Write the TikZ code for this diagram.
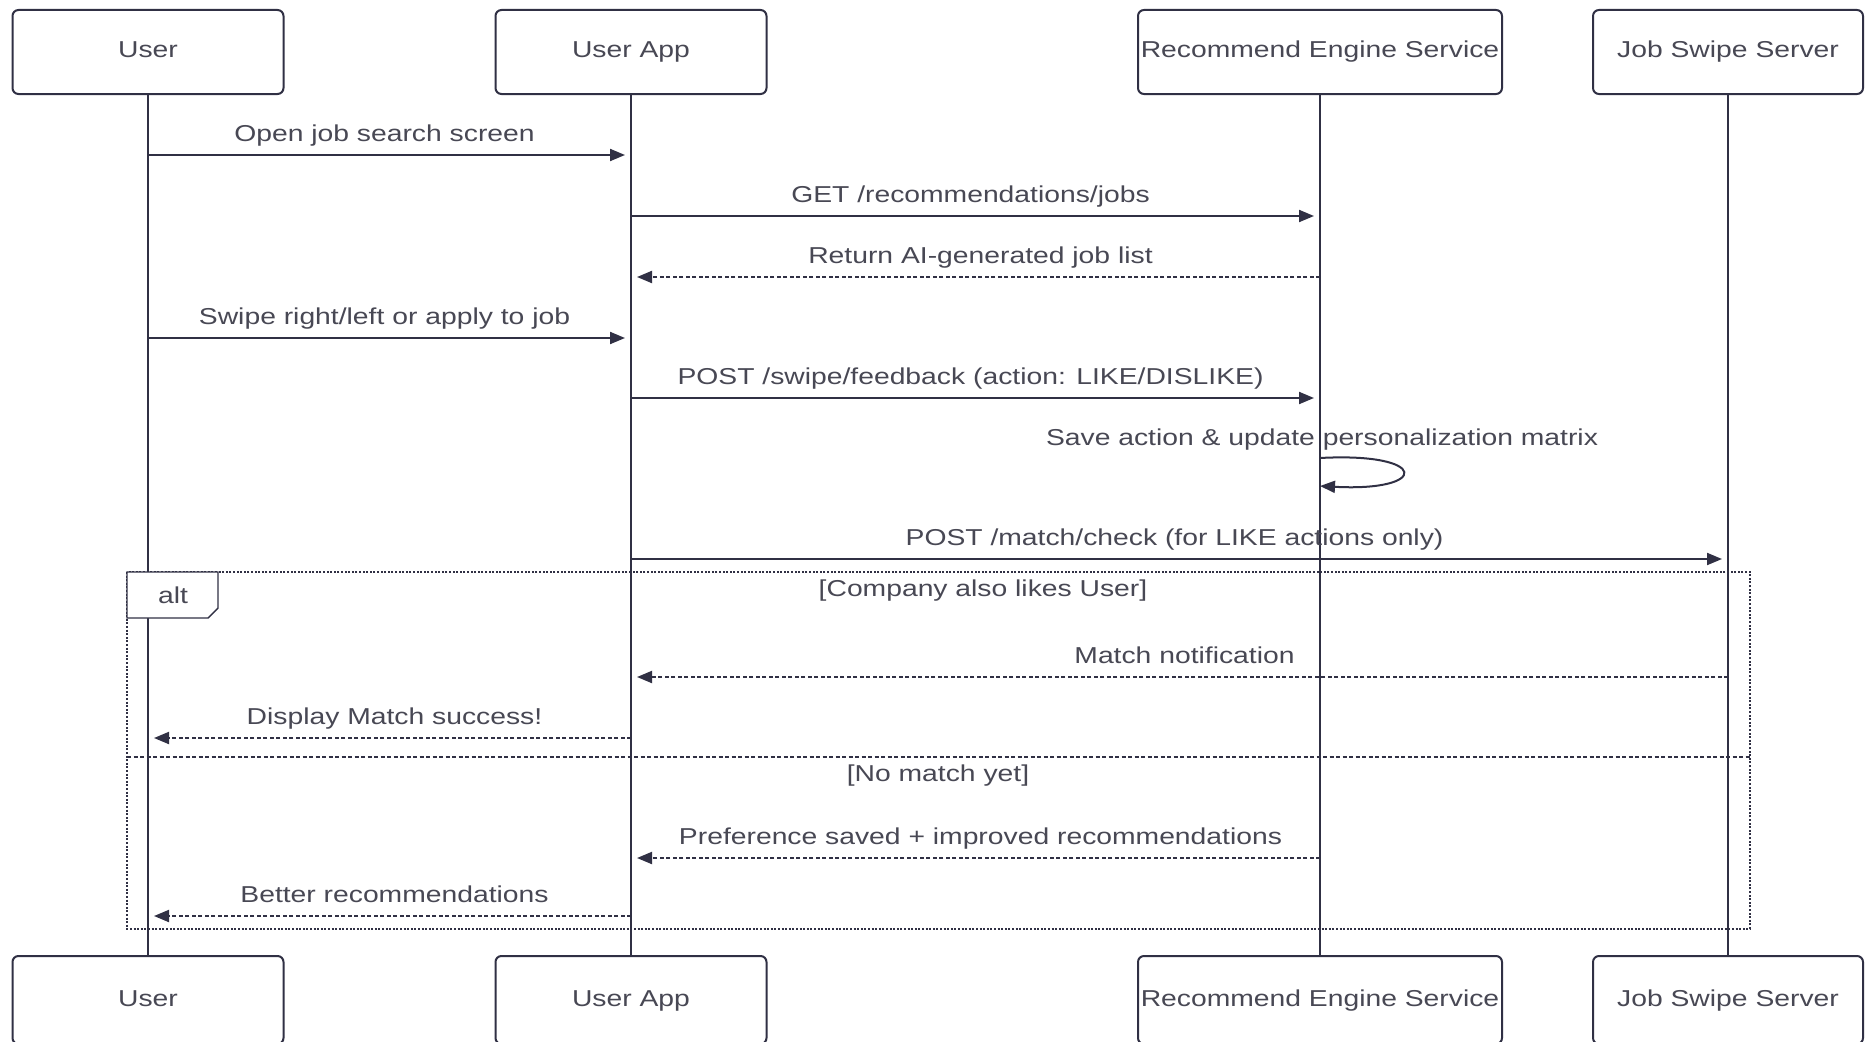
\documentclass[tikz,border=0pt]{standalone}
\usepackage{fontspec}
\setmainfont{Liberation Sans}[FakeStretch=1.23]
\usetikzlibrary{arrows.meta,calc}
\definecolor{ink}{RGB}{48,48,68}
\definecolor{txt}{RGB}{72,72,84}

\begin{document}
\begin{tikzpicture}[x=1pt,y=-1pt,
  actor/.style={draw=ink, line width=2pt, rounded corners=6pt, fill=white,
    minimum height=84pt, text=txt, font=\fontsize{23}{27}\selectfont, inner sep=0pt,
    text height=16.5pt, text depth=4.5pt},
  actorlow/.style={actor, minimum height=88pt},
  life/.style={draw=ink, line width=2pt},
  msg/.style={draw=ink, line width=2pt, -{Triangle[length=15pt,width=12pt]}, shorten >=6pt},
  reply/.style={msg, dash pattern=on 4pt off 2.5pt},
  lbl/.style={text=txt, font=\fontsize{23}{27}\selectfont, inner sep=0pt,
    text height=16.5pt, text depth=4.5pt},
  rlbl/.style={lbl, midway, yshift=20pt, xshift=-5pt},
  llbl/.style={lbl, midway, yshift=20pt, xshift=5pt},
  frame/.style={draw=ink, line width=1.8pt, dash pattern=on 2pt off 1.6pt}]

\useasboundingbox (0,0) rectangle (1865,1041);
\fill[white] (0,0) rectangle (1865,1041);

% participants, top row
\node[actor, minimum width=271pt] (user) at (148,52) {User};
\node[actor, minimum width=271pt] (app)  at (631,52) {User App};
\node[actor, minimum width=364pt] (rec)  at (1320,52) {Recommend Engine Service};
\node[actor, minimum width=270pt] (jss)  at (1728,52) {Job Swipe Server};

% participants, bottom row
\node[actorlow, minimum width=271pt] (userB) at (148,1000) {User};
\node[actorlow, minimum width=271pt] (appB)  at (631,1000) {User App};
\node[actorlow, minimum width=364pt] (recB)  at (1320,1000) {Recommend Engine Service};
\node[actorlow, minimum width=270pt] (jssB)  at (1728,1000) {Job Swipe Server};

% lifelines
\draw[life] (user) -- (userB);
\draw[life] (app) -- (appB);
\draw[life] (rec) -- (recB);
\draw[life] (jss) -- (jssB);

% message rows
\coordinate (m1) at (0,155);
\coordinate (m2) at (0,216);
\coordinate (m3) at (0,277);
\coordinate (m4) at (0,338);
\coordinate (m5) at (0,398);
\coordinate (s1) at (0,458);
\coordinate (s2) at (0,486);
\coordinate (m7) at (0,559);
\coordinate (m8) at (0,677);
\coordinate (m9) at (0,738);
\coordinate (m10) at (0,858);
\coordinate (m11) at (0,916);

% alt fragment
\draw[frame] (127,572) rectangle (1750,929);
\draw[frame, dash pattern=on 4pt off 2.5pt] (127,757) -- (1750,757);
\draw[draw=ink, line width=1.4pt, fill=white]
  (127,572) -- (218,572) -- (218,608) -- (208,618) -- (127,618) -- cycle;
\node[lbl] (alt) at (173,597) {alt};
\node[lbl] (cond1) at (983,590) {[Company also likes User]};
\node[lbl] (cond2) at (938,775) {[No match yet]};

% messages
\draw[msg] (user |- m1) -- node[rlbl] {Open job search screen} (app |- m1);
\draw[msg] (app |- m2) -- node[rlbl] {GET /recommendations/jobs} (rec |- m2);
\draw[reply] (rec |- m3) -- node[llbl] {Return AI-generated job list} (app |- m3);
\draw[msg] (user |- m4) -- node[rlbl] {Swipe right/left or apply to job} (app |- m4);
\draw[msg] (app |- m5) -- node[rlbl] {POST /swipe/feedback (action: LIKE/DISLIKE)} (rec |- m5);
\node[lbl] (selflbl) at (1322,439) {Save action \& update personalization matrix};
\draw[msg, shorten >=0pt] (rec |- s1) .. controls +(110,-6) and +(110,6) .. (rec |- s2);
\draw[msg] (app |- m7) -- node[rlbl] {POST /match/check (for LIKE actions only)} (jss |- m7);
\draw[reply] (jss |- m8) -- node[llbl] {Match notification} (app |- m8);
\draw[reply] (app |- m9) -- node[llbl] {Display Match success!} (user |- m9);
\draw[reply] (rec |- m10) -- node[llbl] {Preference saved + improved recommendations} (app |- m10);
\draw[reply] (app |- m11) -- node[llbl] {Better recommendations} (user |- m11);
\end{tikzpicture}
\end{document}
